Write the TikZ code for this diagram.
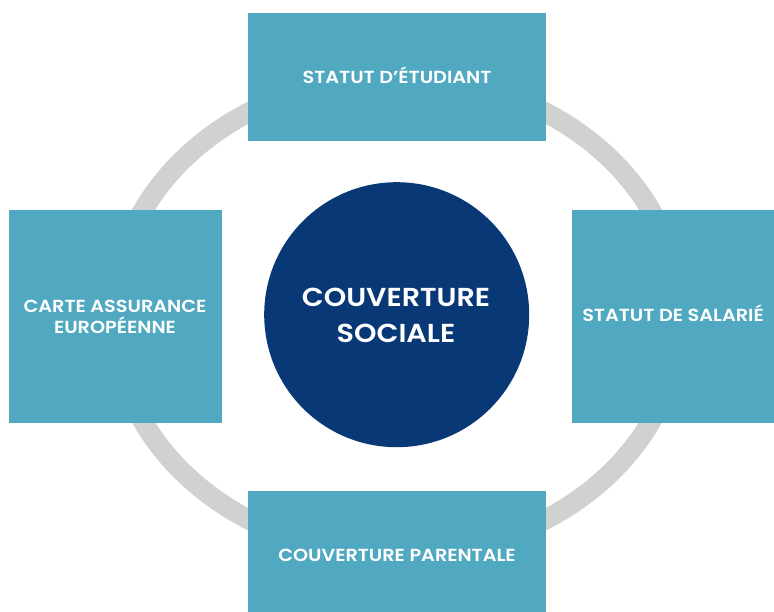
\documentclass[tikz,border=0pt]{standalone}
\usepackage{fontspec}
\setmainfont{Poppins}[BoldFont={Poppins SemiBold}, FakeStretch=1.1]
\definecolor{boxteal}{HTML}{50A8C1}
\definecolor{navy}{HTML}{083876}
\definecolor{ringgray}{HTML}{D0D2D1}
\begin{document}
\begin{tikzpicture}[x=1pt,y=-1pt,
  box/.style={fill=boxteal, draw=none, inner sep=0, outer sep=0},
  lbl/.style={text=white, font=\bfseries\fontsize{17.5}{21}\selectfont, anchor=base, align=center, inner sep=0},
  big/.style={text=white, font=\bfseries\fontsize{26}{36}\selectfont, anchor=base, align=center, inner sep=0}]
\useasboundingbox (0,0) rectangle (774,612);
\draw[ringgray, line width=20pt] (397,316) ellipse [x radius=283pt, y radius=239pt];
\node[box, minimum width=298pt, minimum height=128pt] (top) at (397,76.7) {};
\node[box, minimum width=212.7pt, minimum height=212.7pt] (left) at (115.3,316.3) {};
\node[box, minimum width=202pt, minimum height=212.7pt] (right) at (673,316.3) {};
\node[box, minimum width=298pt, minimum height=130pt] (bottom) at (397,556) {};
\node[circle, fill=navy, minimum size=265pt, inner sep=0] (center) at (396.7,314.7) {};
\node[lbl] (topL) at (397,84) {STATUT D’ÉTUDIANT};
\node[lbl] (leftL) at (115,333.3) {CARTE ASSURANCE\\EUROPÉENNE};
\node[lbl] (rightL) at (673,321.7) {STATUT DE SALARIÉ};
\node[lbl] (bottomL) at (397,561) {COUVERTURE PARENTALE};
\node[big] (centerL) at (396,342.7) {COUVERTURE\\SOCIALE};
\end{tikzpicture}
\end{document}
